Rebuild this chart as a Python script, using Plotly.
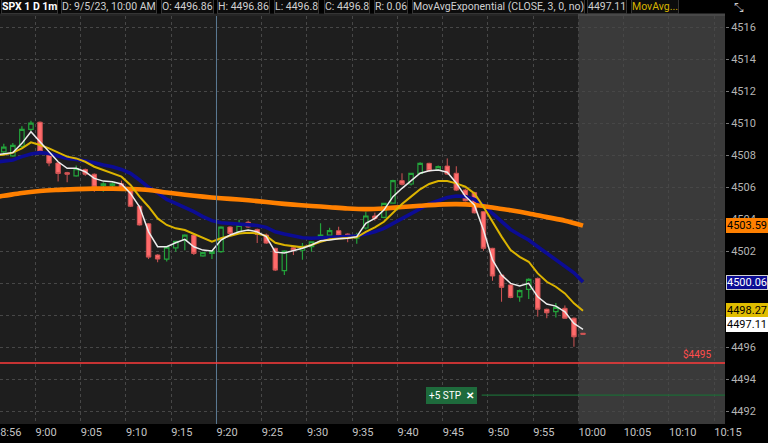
import plotly.graph_objects as go

# ---------------- data ----------------
times = ["8:56", "8:57", "8:58", "8:59",
         "9:00", "9:01", "9:02", "9:03", "9:04", "9:05", "9:06", "9:07", "9:08", "9:09",
         "9:10", "9:11", "9:12", "9:13", "9:14", "9:15", "9:16", "9:17", "9:18", "9:19",
         "9:20", "9:21", "9:22", "9:23", "9:24", "9:25", "9:26", "9:27", "9:28", "9:29",
         "9:30", "9:31", "9:32", "9:33", "9:34", "9:35", "9:36", "9:37", "9:38", "9:39",
         "9:40", "9:41", "9:42", "9:43", "9:44", "9:45", "9:46", "9:47", "9:48", "9:49",
         "9:50", "9:51", "9:52", "9:53", "9:54", "9:55", "9:56", "9:57", "9:58", "9:59",
         "10:00"]
opens = [4508.2, 4507.95, 4508.55, 4509.6,
         4510.05, 4508.0, 4507.5, 4506.9, 4506.7, 4507.1, 4506.8, 4506.1, 4506.1, 4506.2,
         4505.8, 4504.8, 4503.7, 4501.75, 4501.5, 4502.2, 4502.7, 4503.0, 4501.7, 4501.85,
         4501.96, 4503.5, 4503.2, 4503.8, 4503.35, 4503.0, 4502.17, 4500.77, 4502.2, 4502.05,
         4502.27, 4502.86, 4503.0, 4503.27, 4503.06, 4502.8, 4503.44, 4504.19, 4504.1, 4505.0,
         4506.4, 4506.19, 4506.86, 4507.48, 4507.06, 4507.31, 4506.86, 4505.81, 4505.65, 4504.46,
         4502.17, 4500.5, 4499.88, 4499.14, 4499.6, 4500.29, 4498.36, 4498.21, 4498.42, 4497.8,
         4496.86]
highs = [4508.7, 4508.75, 4509.8, 4510.15,
         4510.1, 4508.1, 4507.55, 4506.95, 4507.35, 4507.15, 4506.85, 4506.3, 4506.3, 4506.4,
         4505.85, 4504.85, 4503.75, 4501.8, 4502.3, 4502.65, 4503.05, 4503.05, 4501.95, 4502.05,
         4503.55, 4503.55, 4503.95, 4503.9, 4503.4, 4503.1, 4502.2, 4502.05, 4502.25, 4502.5,
         4502.6, 4503.73, 4503.45, 4503.52, 4503.1, 4503.15, 4504.45, 4504.4, 4505.0, 4506.45,
         4506.86, 4506.9, 4507.55, 4507.52, 4507.35, 4507.79, 4507.3, 4505.9, 4505.7, 4504.5,
         4502.2, 4500.55, 4499.9, 4499.6, 4500.3, 4500.35, 4498.4, 4498.75, 4498.6, 4497.85,
         4496.86]
lows = [4508.0, 4507.9, 4508.4, 4509.5,
        4508.1, 4507.3, 4506.35, 4506.3, 4506.65, 4506.7, 4505.7, 4505.7, 4506.0, 4505.75,
        4504.75, 4503.6, 4501.5, 4501.3, 4501.35, 4501.95, 4502.05, 4501.75, 4501.65, 4501.5,
        4501.9, 4503.05, 4503.1, 4503.45, 4502.5, 4502.45, 4500.75, 4500.5, 4501.75, 4501.45,
        4501.95, 4502.8, 4502.95, 4502.95, 4502.55, 4502.45, 4503.35, 4503.9, 4504.05, 4504.95,
        4506.1, 4506.1, 4506.8, 4506.95, 4507.0, 4506.75, 4505.75, 4505.1, 4504.35, 4502.02,
        4500.14, 4498.83, 4499.05, 4498.83, 4499.0, 4497.9, 4497.8, 4497.85, 4497.8, 4496.02,
        4496.8]
closes = [4508.5, 4508.6, 4509.6, 4510.0,
          4508.2, 4507.5, 4506.85, 4506.8, 4507.15, 4506.8, 4506.0, 4506.2, 4506.2, 4505.8,
          4504.8, 4503.63, 4501.62, 4501.5, 4502.25, 4502.6, 4503.0, 4501.85, 4501.9, 4502.0,
          4503.5, 4503.1, 4503.6, 4503.5, 4503.05, 4502.5, 4500.81, 4502.0, 4502.05, 4502.3,
          4502.58, 4503.0, 4503.27, 4503.0, 4502.96, 4503.0, 4504.19, 4504.04, 4504.98, 4506.4,
          4506.17, 4506.86, 4507.48, 4507.02, 4507.27, 4506.81, 4505.81, 4505.14, 4504.39, 4502.17,
          4500.44, 4499.73, 4499.1, 4499.52, 4500.23, 4498.36, 4498.14, 4498.48, 4497.8, 4496.64,
          4496.8]

# moving averages (first value = bar just left of the view, 8:55)
ma_times = ["8:55"] + times
ema3 = [4508.0,
        4508.08, 4508.15, 4508.73, 4509.46,
        4508.83, 4508.2, 4507.58, 4507.17, 4507.17, 4506.96, 4506.54, 4506.37, 4506.33, 4506.19,
        4505.6, 4504.77, 4503.2, 4502.27, 4502.27, 4502.52, 4502.73, 4502.27, 4502.06, 4502.0,
        4502.69, 4503.0, 4503.2, 4503.31, 4503.2, 4502.9, 4501.93, 4501.88, 4502.02, 4502.17,
        4502.38, 4502.65, 4502.69, 4502.77, 4502.8, 4502.9, 4503.73, 4504.04, 4504.56, 4505.4,
        4505.92, 4506.4, 4506.86, 4507.02, 4507.06, 4506.93, 4506.25, 4505.42, 4504.88, 4503.31,
        4501.44, 4500.5, 4499.98, 4499.81, 4499.98, 4499.14, 4498.69, 4498.56, 4498.2, 4497.48,
        4497.11]
ema_yellow = [4507.97,
              4508.02, 4508.15, 4508.42, 4508.79,
              4508.63, 4508.42, 4508.15, 4507.9, 4507.79, 4507.58, 4507.27, 4507.06, 4506.9, 4506.65,
              4506.13, 4505.4, 4504.77, 4504.04, 4503.63, 4503.42, 4503.31, 4503.06, 4502.8, 4502.58,
              4502.8, 4502.94, 4503.1, 4503.14, 4503.1, 4502.94, 4502.52, 4502.38, 4502.3, 4502.23,
              4502.38, 4502.58, 4502.73, 4502.77, 4502.79, 4502.86, 4503.2, 4503.48, 4503.83, 4504.4,
              4504.94, 4505.4, 4505.86, 4506.19, 4506.38, 4506.37, 4506.23, 4506.02, 4505.6, 4504.77,
              4503.83, 4502.9, 4502.06, 4501.64, 4501.33, 4500.6, 4500.08, 4499.77, 4499.35, 4498.73,
              4498.27]
ema_blue = [4507.55,
            4507.6, 4507.69, 4507.9, 4508.06,
            4508.15, 4508.1, 4507.94, 4507.79, 4507.73, 4507.65, 4507.52, 4507.38, 4507.27, 4507.1,
            4506.86, 4506.44, 4505.98, 4505.64, 4505.23, 4504.98, 4504.73, 4504.46, 4504.15, 4503.9,
            4503.77, 4503.73, 4503.69, 4503.67, 4503.6, 4503.48, 4503.2, 4503.06, 4502.94, 4502.83,
            4502.8, 4502.83, 4502.86, 4502.9, 4502.9, 4502.94, 4503.06, 4503.2, 4503.42, 4503.73,
            4504.04, 4504.35, 4504.67, 4504.94, 4505.14, 4505.35, 4505.44, 4505.4, 4505.23, 4504.88,
            4504.35, 4503.83, 4503.35, 4503.0, 4502.69, 4502.27, 4501.85, 4501.44, 4501.06, 4500.64,
            4500.06]
orange_times = ["8:55", "8:56", "8:58", "9:00", "9:02", "9:04", "9:06", "9:08", "9:10", "9:12",
                "9:14", "9:16", "9:18", "9:20", "9:22", "9:24", "9:26", "9:28", "9:30", "9:32",
                "9:34", "9:36", "9:38", "9:40", "9:42", "9:44", "9:46", "9:48", "9:50", "9:52",
                "9:54", "9:56", "9:58", "10:00"]
ema_orange = [4505.38, 4505.45, 4505.63, 4505.75, 4505.82, 4505.87, 4505.9, 4505.9, 4505.88, 4505.82,
              4505.66, 4505.52, 4505.4, 4505.3, 4505.22, 4505.12, 4505.0, 4504.9, 4504.82, 4504.74,
              4504.66, 4504.62, 4504.66, 4504.75, 4504.83, 4504.9, 4504.93, 4504.88, 4504.72, 4504.55,
              4504.35, 4504.12, 4503.9, 4503.59]

x_tick_labels = ["8:56", "9:00", "9:05", "9:10", "9:15", "9:20", "9:25", "9:30", "9:35", "9:40",
                 "9:45", "9:50", "9:55", "10:00", "10:05", "10:10", "10:15"]
y_tick_values = [4492, 4494, 4496, 4498, 4500, 4502, 4504, 4506, 4508, 4510, 4512, 4514, 4516]
alert_price = 4495
stop_price = 4493
cursor_time = "9:20"
future_start = "10:00"


def to_min(t):
    h, m = t.split(":")
    return (int(h) - 9) * 60 + int(m)


X_MIN, X_MAX = -4.42, 75.69
Y_MIN, Y_MAX = 4491.19, 4516.69
W, H = 768, 443
ML, MR, MT, MB = 0, 43, 16, 19
PW, PH = W - ML - MR, H - MT - MB
FONT = "Roboto, Open Sans, sans-serif"

xs = [to_min(t) for t in times]

fig = go.Figure()

fig.add_trace(go.Candlestick(
    x=xs, open=opens, high=highs, low=lows, close=closes,
    increasing=dict(line=dict(color="#23a33b", width=1.2), fillcolor="#1e1e1e"),
    decreasing=dict(line=dict(color="#d05454", width=1), fillcolor="#ff6b6b"),
    whiskerwidth=0, hoverinfo="skip", showlegend=False))

fig.add_trace(go.Scatter(x=[to_min(t) for t in ma_times], y=ema_blue, mode="lines",
                         line=dict(color="#0c0c94", width=3.6), hoverinfo="skip", showlegend=False))
fig.add_trace(go.Scatter(x=[to_min(t) for t in orange_times], y=ema_orange, mode="lines",
                         line=dict(color="#ff8000", width=4.6, shape="spline"), hoverinfo="skip", showlegend=False))
fig.add_trace(go.Scatter(x=[to_min(t) for t in ma_times], y=ema_yellow, mode="lines",
                         line=dict(color="#dcb400", width=2), hoverinfo="skip", showlegend=False))
fig.add_trace(go.Scatter(x=[to_min(t) for t in ma_times], y=ema3, mode="lines",
                         line=dict(color="#ececec", width=1.5), hoverinfo="skip", showlegend=False))

# tick positions: left edge of each labelled bar slot
tick_vals = [max(to_min(t) - 0.5, X_MIN + 0.02) for t in x_tick_labels]

shapes = []
# future (empty) region
shapes.append(dict(type="rect", xref="x", yref="paper", x0=to_min(future_start) - 0.5, x1=X_MAX,
                   y0=0, y1=1, fillcolor="#3a3a3a", line=dict(width=0), layer="below"))
# cursor line
shapes.append(dict(type="line", xref="x", yref="paper", x0=to_min(cursor_time) - 0.5,
                   x1=to_min(cursor_time) - 0.5, y0=0, y1=1, line=dict(color="#5c7b95", width=1)))
# alert line
shapes.append(dict(type="line", xref="paper", yref="y", x0=0, x1=1, y0=alert_price, y1=alert_price,
                   line=dict(color="#ff3b3b", width=1.5)))
# stop order line
shapes.append(dict(type="line", xref="x", yref="y", x0=48.8, x1=X_MAX, y0=stop_price, y1=stop_price,
                   line=dict(color="#1d6a36", width=1.2)))


def py(pix):
    return 1 + (MT - pix) / PH


def px(pix):
    return pix / PW


# header strip
shapes.append(dict(type="rect", xref="paper", yref="paper", x0=0, x1=px(578), y0=py(16), y1=py(13.5),
                   fillcolor="#262626", line=dict(width=0)))
shapes.append(dict(type="rect", xref="paper", yref="paper", x0=px(578), x1=1, y0=py(16), y1=py(13.5),
                   fillcolor="#484848", line=dict(width=0)))

annotations = []
header = [
    (1, "<b>SPX 1 D 1m</b>", "#ffffff"),
    (61, "D: 9/5/23, 10:00 AM", "#d0d0d0"),
    (161, f"O: {opens[-1]}", "#d0d0d0"),
    (217, f"H: {highs[-1]}", "#d0d0d0"),
    (274, f"L: {lows[-1]}", "#d0d0d0"),
    (324, f"C: {closes[-1]}", "#d0d0d0"),
    (374, f"R: {round(highs[-1] - lows[-1], 2)}", "#d0d0d0"),
    (412, "MovAvgExponential (CLOSE, 3, 0, no)", "#d0d0d0"),
    (587, f"{ema3[-1]}", "#d0d0d0"),
    (631, "MovAvg...", "#d8b400"),
]
for xp, txt, col in header:
    annotations.append(dict(xref="paper", yref="paper", x=px(xp), y=py(6.5), xanchor="left",
                            yanchor="middle", text=txt, showarrow=False,
                            font=dict(family=FONT, size=10.5, color=col),
                            bgcolor="#0c0c0c", bordercolor="#353535", borderwidth=1, borderpad=0))
annotations.append(dict(xref="paper", yref="paper", x=px(739), y=py(7), xanchor="center",
                        yanchor="middle", text="⤡", showarrow=False,
                        font=dict(size=12, color="#c8c8c8")))

# price badges on the right axis
badges = [
    (ema_orange[-1], "#ff8000", "#000000", 0),
    (ema_blue[-1], "#0c0c94", "#ffffff", 0),
    (ema_yellow[-1], "#e0bd00", "#000000", 0),
    (ema3[-1], "#ffffff", "#000000", 5),
]
for val, bg, fg, ys in badges:
    annotations.append(dict(xref="paper", yref="y", x=1, y=val, xanchor="left", yanchor="middle",
                            xshift=1, yshift=ys, text=f"{val:.2f}", showarrow=False,
                            font=dict(family=FONT, size=11, color=fg),
                            bgcolor=bg, bordercolor="#d0d0d0" if bg == "#0c0c94" else bg,
                            borderwidth=1, borderpad=0))

annotations.append(dict(xref="paper", yref="y", x=px(697), y=alert_price, yshift=9,
                        xanchor="center", yanchor="middle", text=f"${alert_price}", showarrow=False,
                        font=dict(family=FONT, size=10, color="#ff4d4d")))
annotations.append(dict(xref="x", yref="y", x=45.5, y=stop_price, xanchor="center", yanchor="middle",
                        text="+5 STP  <b>✕</b>", showarrow=False,
                        font=dict(family=FONT, size=10, color="#ffffff"),
                        bgcolor="#1e6b3c", bordercolor="#1e6b3c", borderwidth=1, borderpad=2))

fig.update_layout(
    width=W, height=H,
    margin=dict(l=ML, r=MR, t=MT, b=MB, pad=0),
    paper_bgcolor="#000000", plot_bgcolor="#1e1e1e",
    showlegend=False,
    shapes=shapes, annotations=annotations,
    xaxis=dict(range=[X_MIN, X_MAX], tickvals=tick_vals, ticktext=x_tick_labels,
               ticklabelposition="outside right", ticks="", showgrid=True,
               gridcolor="#474747", griddash="dot", gridwidth=1, zeroline=False,
               tickfont=dict(family=FONT, size=11, color="#c4c4c4"),
               rangeslider=dict(visible=False), showline=False, fixedrange=True),
    yaxis=dict(range=[Y_MIN, Y_MAX], side="right", tickvals=y_tick_values,
               ticktext=[str(v) for v in y_tick_values],
               ticks="outside", ticklen=3, tickcolor="#777777", showgrid=True,
               gridcolor="#474747", griddash="dot", gridwidth=1, zeroline=False,
               tickfont=dict(family=FONT, size=11, color="#b4b4b4"),
               showline=False, fixedrange=True),
)

fig.write_html("out.html", config={"displayModeBar": False},
               post_script="document.body.style.margin='0';document.body.style.background='#000';")
